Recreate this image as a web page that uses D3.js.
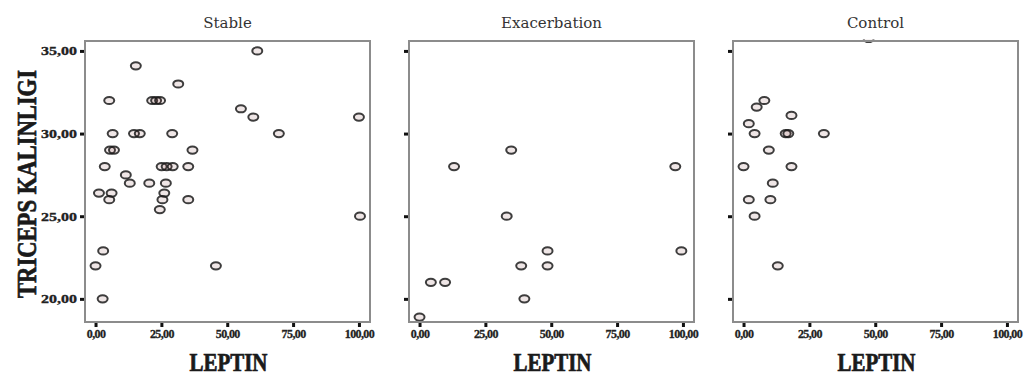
<!DOCTYPE html>
<html>
<head>
<meta charset="utf-8">
<script src="https://cdn.jsdelivr.net/npm/d3@7"></script>
<style>
  body { margin: 0; background: #fff; }
  .title { font: 15px "DejaVu Serif", serif; fill: #333; }
  .tick text { font-family: "Liberation Serif", serif; font-weight: bold; fill: #222; stroke: #222; stroke-width: 0.3; }
  .tick line { stroke: #111; stroke-width: 3; }
  .lab { font-family: "Liberation Serif", serif; font-weight: bold; fill: #1a1a1a; stroke: #1a1a1a; stroke-width: 0.7; }
</style>
</head>
<body>
<script>
// groups
var groups = ["Stable", "Exacerbation", "Control"];

// LEPTIN (x) and TRICEPS KALINLIGI (y)
var stableLeptin  = [61.4, 15.3, 31.4, 5.2, 21.5, 23, 24.5, 55.2, 59.9, 100, 6.5, 14.6, 16.8, 29.1, 69.6, 5.5, 7, 36.8, 3.5, 25.1, 27, 29.3, 35.2, 11.5, 13, 20.4, 26.7, 1.3, 6.1, 5.2, 26.1, 25.4, 24.4, 35.2, 100.4, 2.9, 0, 45.7, 2.7];
var stableTriceps = [35, 34.1, 33, 32, 32, 32, 32, 31.5, 31, 31, 30, 30, 30, 30, 30, 29, 29, 29, 28, 28, 28, 28, 28, 27.5, 27, 27, 27, 26.4, 26.4, 26, 26.4, 26, 25.4, 26, 25, 22.9, 22, 22, 20];

var exacLeptin  = [34.8, 13.1, 97.1, 33.1, 48.6, 99.4, 38.6, 48.6, 4.3, 9.7, 39.8, 0];
var exacTriceps = [29, 28, 28, 25, 22.9, 22.9, 22, 22, 21, 21, 20, 18.9];

var controlLeptin  = [7.9, 5.0, 18.2, 2.0, 4.2, 16, 17, 30.5, 9.6, 0, 18.2, 11.1, 2.0, 10.2, 4.2, 13, 47.5];
var controlTriceps = [32, 31.6, 31.1, 30.6, 30, 30, 30, 30, 29, 28, 28, 27, 26, 26, 25, 22, 35.75];

var xTicks = [0, 25, 50, 75, 100];
var yTicks = [20, 25, 30, 35];
var xLabel = "LEPTIN";
var yLabel = "TRICEPS KALINLIGI";

var series = [
  {name: groups[0], x: stableLeptin, y: stableTriceps},
  {name: groups[1], x: exacLeptin, y: exacTriceps},
  {name: groups[2], x: controlLeptin, y: controlTriceps}
];

var W = 1029, H = 375;
var pw = 285, ph = 281, plotTop = 41;
var lefts = [85, 409, 733];

var fmt = function(d) { return d3.format(".2f")(d).replace(".", ","); };

var svg = d3.select("body").append("svg")
    .attr("width", W)
    .attr("height", H);

var y = d3.scaleLinear().domain([18.6, 35.6]).range([plotTop + ph, plotTop]);

series.forEach(function(s, i) {
  var left = lefts[i];
  var x = d3.scaleLinear().domain([-4, 104.2]).range([left, left + pw]);
  var g = svg.append("g");

  g.append("clipPath").attr("id", "clip" + i)
    .append("rect").attr("x", left).attr("y", plotTop - 1.5).attr("width", pw).attr("height", ph + 1.5);

  // points
  var pts = s.x.map(function(v, k) { return {x: v, y: s.y[k]}; });
  g.append("g").attr("clip-path", "url(#clip" + i + ")")
    .selectAll("ellipse")
    .data(pts)
    .enter().append("ellipse")
    .attr("cx", function(d) { return x(d.x); })
    .attr("cy", function(d) { return y(d.y); })
    .attr("rx", 5)
    .attr("ry", 3.6)
    .attr("fill", "rgba(120,50,50,0.12)")
    .attr("stroke", "#1c1c1c")
    .attr("stroke-opacity", 0.85)
    .attr("stroke-width", 2);

  // frame
  g.append("rect")
    .attr("x", left).attr("y", plotTop)
    .attr("width", pw).attr("height", ph)
    .attr("fill", "none")
    .attr("stroke", "#8c8c8c")
    .attr("stroke-width", 2);

  // x axis
  var xa = g.append("g")
    .attr("transform", "translate(0," + (plotTop + ph + 1) + ")")
    .call(d3.axisBottom(x).tickValues(xTicks).tickSize(4).tickPadding(2).tickFormat(fmt));
  xa.select(".domain").remove();
  xa.selectAll("text").style("font-size", "12px").style("letter-spacing", "-0.6px");

  // y axis
  var ya = g.append("g")
    .attr("transform", "translate(" + (left - 1) + ",0)")
    .call(d3.axisLeft(y).tickValues(yTicks).tickSize(4).tickPadding(3).tickFormat(i === 0 ? fmt : ""));
  ya.select(".domain").remove();
  ya.selectAll("text").style("font-size", "12px").attr("textLength", 36).attr("lengthAdjust", "spacingAndGlyphs");

  // title
  g.append("text").attr("class", "title")
    .attr("x", left + pw / 2).attr("y", 28)
    .attr("text-anchor", "middle")
    .text(s.name);

  // x label
  g.append("text").attr("class", "lab")
    .attr("x", left + pw / 2 + 1).attr("y", 371)
    .attr("text-anchor", "middle")
    .style("font-size", "25px")
    .attr("textLength", 78).attr("lengthAdjust", "spacingAndGlyphs")
    .text(xLabel);
});

// y label
svg.append("text").attr("class", "lab")
  .attr("transform", "translate(36,184) rotate(-90)")
  .attr("text-anchor", "middle")
  .style("font-size", "28px")
  .attr("textLength", 228).attr("lengthAdjust", "spacingAndGlyphs")
  .text(yLabel);
</script>
</body>
</html>
